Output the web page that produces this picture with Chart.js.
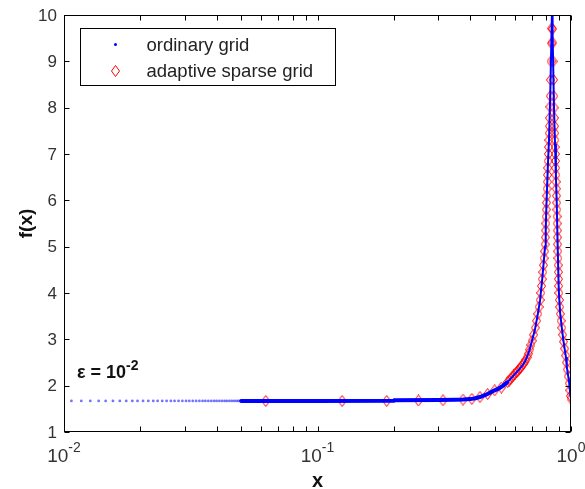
<!DOCTYPE html>
<html>
<head>
<meta charset="utf-8">
<title>f(x) ordinary vs adaptive sparse grid</title>
<script src="https://cdn.jsdelivr.net/npm/chart.js@4.4.1/dist/chart.umd.min.js"></script>
<style>
  html, body { margin: 0; padding: 0; background: #ffffff; }
  #wrap { width: 585px; height: 489px; }
</style>
</head>
<body>
<div id="wrap"><canvas id="chart" width="585" height="489"></canvas></div>
<script>
// ---------------------------------------------------------------------------
// Data
// ---------------------------------------------------------------------------

// ordinary grid, left part where the dots are still apart
const ordinarySparseX = [0.0107, 0.0117, 0.0127, 0.0137, 0.0146, 0.0156, 0.0166, 0.0176, 0.0186, 0.0195,
    0.0205, 0.0215, 0.0225, 0.0234, 0.0244, 0.0254, 0.0264, 0.0273, 0.0283, 0.0293,
    0.0303, 0.0312, 0.0322, 0.0332, 0.0342, 0.0352, 0.0361, 0.0371, 0.0381, 0.0391,
    0.0400, 0.0410, 0.0420, 0.0430, 0.0439, 0.0449, 0.0459, 0.0469, 0.0479, 0.0488, 0.0498];
const ordinarySparseY = ordinarySparseX.map(() => 1.67);

// ordinary grid, flat dense part (dots merge into a band)
const ordinaryFlatX = [0.05, 0.1, 0.2, 0.201, 0.3, 0.35, 0.375, 0.40, 0.42, 0.44, 0.46, 0.48, 0.50,
    0.52, 0.54, 0.56];
const ordinaryFlatY = [1.67, 1.67, 1.672, 1.685, 1.688, 1.695, 1.70, 1.71, 1.73, 1.76, 1.80, 1.85, 1.90,
    1.94, 2.00, 2.07];

// ordinary grid around the peak
const ordinaryPeakX = [0.56, 0.58, 0.60, 0.62, 0.64, 0.66, 0.68, 0.70, 0.72, 0.74, 0.755, 0.77,
    0.78, 0.79, 0.795, 0.80, 0.81, 0.82, 0.83, 0.837, 0.843,
    0.846, 0.85, 0.857, 0.865, 0.872, 0.878, 0.886, 0.895, 0.905, 0.92, 0.932, 0.945,
    0.956, 0.962, 0.972, 0.982, 0.99, 0.995, 1.0];
const ordinaryPeakY = [2.07, 2.16, 2.25, 2.33, 2.42, 2.53, 2.70, 2.95, 3.20, 3.55, 3.84, 4.30,
    4.65, 5.00, 5.40, 5.90, 6.70, 7.40, 8.50, 9.50, 10.3,
    9.60, 9.00, 8.00, 7.20, 6.50, 6.00, 5.00, 4.05, 3.60, 3.25, 3.00, 2.78,
    2.60, 2.42, 2.25, 2.10, 1.90, 1.78, 1.72];

// adaptive sparse grid (diamonds)
const adaptiveX = [0.0625, 0.125, 0.1875, 0.25, 0.3125, 0.375, 0.40625, 0.4375, 0.46875, 0.5, 0.53125, 0.5625,
    0.5703, 0.5781, 0.5859, 0.5938, 0.6016, 0.6094, 0.6172, 0.625, 0.6328, 0.6406, 0.6484, 0.6563,
    0.6641, 0.6719, 0.6797, 0.6875, 0.6953, 0.7031, 0.712, 0.7229, 0.7314, 0.74, 0.7478, 0.7553,
    0.7602, 0.7651, 0.77, 0.7743, 0.7786, 0.7829, 0.7871, 0.7906, 0.7925, 0.7944, 0.796, 0.7975,
    0.799, 0.8006, 0.8025, 0.8044, 0.8063, 0.8081, 0.81, 0.8121, 0.8143, 0.8164, 0.8186, 0.8205,
    0.8218, 0.8237, 0.8262, 0.8284, 0.8314, 0.8341, 0.8367, 0.8388,
    0.8454, 0.8473, 0.85, 0.8528, 0.8553, 0.857, 0.8592, 0.861, 0.8625, 0.864, 0.8655, 0.867,
    0.8685, 0.87, 0.8715, 0.8732, 0.875, 0.8768, 0.8784, 0.8796, 0.8808, 0.882, 0.8832, 0.8844,
    0.8856, 0.8869, 0.8884, 0.8898, 0.8912, 0.8926, 0.8941, 0.8961, 0.8994, 0.9028, 0.9071, 0.9136,
    0.92, 0.9272, 0.9349, 0.9438, 0.953, 0.9593, 0.9661, 0.9753, 0.984, 0.99, 0.995, 1.0];
const adaptiveY = [1.67, 1.67, 1.67, 1.68, 1.685, 1.70, 1.715, 1.755, 1.82, 1.90, 1.96, 2.08,
    2.11, 2.15, 2.19, 2.22, 2.26, 2.29, 2.32, 2.36, 2.39, 2.43, 2.47, 2.51,
    2.56, 2.61, 2.69, 2.78, 2.88, 2.97, 3.10, 3.25, 3.40, 3.55, 3.70, 3.85,
    4.00, 4.15, 4.30, 4.45, 4.60, 4.75, 4.90, 5.05, 5.20, 5.35, 5.50, 5.65,
    5.80, 5.95, 6.10, 6.25, 6.40, 6.55, 6.70, 6.85, 7.00, 7.15, 7.30, 7.45,
    7.60, 7.78, 8.02, 8.25, 8.60, 9.00, 9.39, 9.71,
    9.70, 9.40, 9.00, 8.60, 8.25, 8.00, 7.78, 7.60, 7.45, 7.30, 7.15, 7.00,
    6.85, 6.70, 6.55, 6.40, 6.25, 6.10, 5.95, 5.80, 5.65, 5.50, 5.35, 5.20,
    5.05, 4.90, 4.75, 4.60, 4.45, 4.30, 4.15, 4.00, 3.85, 3.70, 3.55, 3.40,
    3.25, 3.10, 2.95, 2.80, 2.65, 2.50, 2.35, 2.20, 2.05, 1.90, 1.78, 1.72];

// axes
const yTicks = [1, 2, 3, 4, 5, 6, 7, 8, 9, 10];
const xDecades = [-2, -1, 0];
const xMinorSteps = [2, 3, 4, 5, 6, 7, 8, 9];

const legendLabels = ['ordinary grid', 'adaptive sparse grid'];

// ---------------------------------------------------------------------------
// Helpers
// ---------------------------------------------------------------------------

function toPoints(xs, ys) {
    return xs.map((x, i) => ({ x: x, y: ys[i] }));
}

// MATLAB style diamond: a bit taller than wide
function makeDiamond(w, h, color) {
    const c = document.createElement('canvas');
    c.width = w;
    c.height = h;
    const g = c.getContext('2d');
    g.strokeStyle = color;
    g.lineWidth = 1;
    g.beginPath();
    g.moveTo(w / 2, 0.5);
    g.lineTo(w - 0.5, h / 2);
    g.lineTo(w / 2, h - 0.5);
    g.lineTo(0.5, h / 2);
    g.closePath();
    g.stroke();
    return c;
}

const diamond = makeDiamond(9, 12, '#ff0000');
const BLUE = '#0000ff';
const DOT = 'rgba(0, 0, 255, 0.55)';
const FONT = '"Liberation Sans", Arial, Helvetica, sans-serif';

// draw "10" with a raised exponent, centred on cx
function drawPower(ctx, cx, baseline, exp, size, supSize, weight) {
    const base = '10';
    const sup = String(exp);
    ctx.font = weight + ' ' + size + 'px ' + FONT;
    const wb = ctx.measureText(base).width;
    ctx.font = weight + ' ' + supSize + 'px ' + FONT;
    const ws = ctx.measureText(sup).width;
    const left = cx - (wb + ws) / 2;
    ctx.textAlign = 'left';
    ctx.textBaseline = 'alphabetic';
    ctx.font = weight + ' ' + size + 'px ' + FONT;
    ctx.fillText(base, left, baseline);
    ctx.font = weight + ' ' + supSize + 'px ' + FONT;
    ctx.fillText(sup, left + wb, baseline - 10);
}

// ---------------------------------------------------------------------------
// Axes box, inward ticks, labels, legend, annotation (MATLAB look)
// ---------------------------------------------------------------------------
const matlabAxes = {
    id: 'matlabAxes',
    afterDatasetsDraw(chart) {
        const ctx = chart.ctx;
        const area = chart.chartArea;
        const xs = chart.scales.x;
        const ys = chart.scales.y;
        const L = Math.round(area.left) + 0.5;
        const R = Math.round(area.right) - 0.5;
        const T = Math.round(area.top) + 0.5;
        const B = Math.round(area.bottom) - 0.5;
        const tick = 5;

        ctx.save();
        ctx.strokeStyle = '#000000';
        ctx.lineWidth = 1;

        // box
        ctx.strokeRect(L, T, R - L, B - T);

        // y ticks (both sides)
        ctx.beginPath();
        yTicks.forEach(v => {
            const py = Math.round(ys.getPixelForValue(v)) + 0.5;
            ctx.moveTo(L, py); ctx.lineTo(L + tick, py);
            ctx.moveTo(R, py); ctx.lineTo(R - tick, py);
        });

        // x ticks, major + minor (top and bottom)
        const xTickVals = [];
        xDecades.forEach(d => {
            xTickVals.push(Math.pow(10, d));
            if (d < 0) xMinorSteps.forEach(m => xTickVals.push(m * Math.pow(10, d)));
        });
        xTickVals.forEach(v => {
            const px = Math.round(xs.getPixelForValue(v)) + 0.5;
            ctx.moveTo(px, B); ctx.lineTo(px, B - tick);
            ctx.moveTo(px, T); ctx.lineTo(px, T + tick);
        });
        ctx.stroke();

        // y tick labels
        ctx.fillStyle = '#333333';
        ctx.font = '17px ' + FONT;
        ctx.textAlign = 'right';
        ctx.textBaseline = 'middle';
        yTicks.forEach(v => {
            ctx.fillText(String(v), area.left - 7, ys.getPixelForValue(v) + 1);
        });

        // x tick labels 10^d
        xDecades.forEach(d => {
            drawPower(ctx, xs.getPixelForValue(Math.pow(10, d)), area.bottom + 30, d, 19, 14, 'normal');
        });

        // axis titles
        ctx.fillStyle = '#111111';
        ctx.font = 'bold 20px ' + FONT;
        ctx.textAlign = 'center';
        ctx.textBaseline = 'alphabetic';
        ctx.fillText('x', (area.left + area.right) / 2, area.bottom + 55);

        ctx.save();
        ctx.translate(32, (area.top + area.bottom) / 2);
        ctx.rotate(-Math.PI / 2);
        ctx.font = 'bold 19px ' + FONT;
        ctx.fillText('f(x)', 0, 0);
        ctx.restore();

        // epsilon annotation
        ctx.font = 'bold 18px ' + FONT;
        ctx.textAlign = 'left';
        const epsText = '\u03b5 = 10';
        const epsX = area.left + 13;
        const epsBase = ys.getPixelForValue(1.68) - 22;
        ctx.fillText(epsText, epsX, epsBase);
        const wEps = ctx.measureText(epsText).width;
        ctx.font = 'bold 14px ' + FONT;
        ctx.fillText('-2', epsX + wEps, epsBase - 8);

        // legend box
        const lx = area.left + 16.5;
        const ly = area.top + 13.5;
        const lw = 255;
        const lh = 57;
        ctx.fillStyle = '#ffffff';
        ctx.fillRect(lx, ly, lw, lh);
        ctx.strokeStyle = '#000000';
        ctx.strokeRect(lx, ly, lw, lh);

        const mx = lx + 35;
        const rows = [ly + 16, ly + 42.5];
        // ordinary grid marker
        ctx.fillStyle = BLUE;
        ctx.beginPath();
        ctx.arc(mx, rows[0], 1.5, 0, Math.PI * 2);
        ctx.fill();
        // adaptive sparse grid marker
        ctx.drawImage(diamond, Math.round(mx - diamond.width / 2), Math.round(rows[1] - diamond.height / 2));

        ctx.fillStyle = '#222222';
        ctx.font = '18.5px ' + FONT;
        ctx.textAlign = 'left';
        ctx.textBaseline = 'middle';
        legendLabels.forEach((t, i) => {
            ctx.fillText(t, lx + 66, rows[i] + 1);
        });

        ctx.restore();
    }
};

// ---------------------------------------------------------------------------
// Chart
// ---------------------------------------------------------------------------
new Chart(document.getElementById('chart'), {
    type: 'scatter',
    data: {
        datasets: [
            {
                label: legendLabels[0],
                data: toPoints(ordinarySparseX, ordinarySparseY),
                pointStyle: 'circle',
                pointRadius: 1.4,
                pointBorderWidth: 0,
                pointBackgroundColor: DOT,
                showLine: false
            },
            {
                label: legendLabels[0] + ' (flat)',
                data: toPoints(ordinaryFlatX, ordinaryFlatY),
                showLine: true,
                borderColor: BLUE,
                borderWidth: 4,
                borderCapStyle: 'round',
                pointRadius: 0,
                tension: 0,
                clip: 0
            },
            {
                label: legendLabels[0] + ' (peak)',
                data: toPoints(ordinaryPeakX, ordinaryPeakY),
                showLine: true,
                borderColor: BLUE,
                borderWidth: 2,
                borderJoinStyle: 'round',
                pointRadius: 0,
                tension: 0,
                clip: 0
            },
            {
                label: legendLabels[1],
                data: toPoints(adaptiveX, adaptiveY),
                pointStyle: diamond,
                pointRadius: 5,
                showLine: false
            }
        ]
    },
    options: {
        responsive: false,
        animation: false,
        events: [],
        layout: {
            padding: { left: 64, right: 14, top: 15, bottom: 57 }
        },
        plugins: {
            legend: { display: false },
            tooltip: { enabled: false }
        },
        scales: {
            x: {
                type: 'logarithmic',
                min: 0.01,
                max: 1,
                display: false
            },
            y: {
                type: 'linear',
                min: 1,
                max: 10,
                display: false
            }
        }
    },
    plugins: [matlabAxes]
});
</script>
</body>
</html>
